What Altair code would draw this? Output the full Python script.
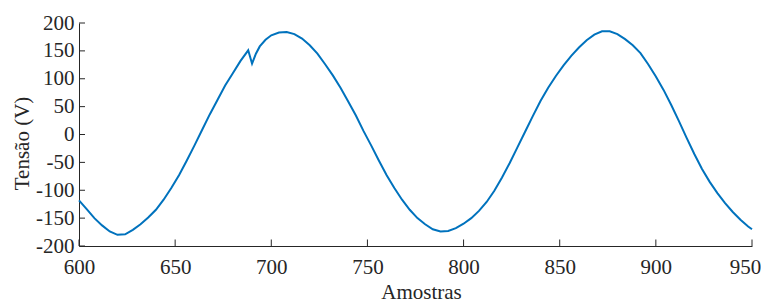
import altair as alt
import pandas as pd

amostras = [600, 604, 608, 612, 616, 620, 624, 628, 632, 636, 640, 644, 648, 652,
            656, 660, 664, 668, 672, 676, 680, 684, 688, 690, 692, 694, 697, 700,
            704, 708, 712, 716, 720, 724, 728, 732, 736, 740, 744, 748, 752, 756,
            760, 764, 768, 772, 776, 780, 784, 788, 792, 796, 800, 804, 808, 812,
            816, 820, 824, 828, 832, 836, 840, 844, 848, 852, 856, 860, 864, 868,
            872, 876, 880, 884, 888, 892, 896, 900, 904, 908, 912, 916, 920, 924,
            928, 932, 936, 940, 944, 948, 950]
tensao = [-118, -134, -150, -163, -174, -180, -179, -171, -161, -149, -135, -117, -96, -73,
          -47, -20, 8, 36, 62, 88, 110, 132, 151, 127, 145, 158, 170, 178,
          183, 184, 180, 172, 160, 145, 126, 106, 84, 59, 34, 6, -20, -47,
          -73, -96, -117, -135, -150, -161, -170, -174, -173, -168, -160, -150, -137, -121,
          -101, -77, -51, -23, 5, 33, 60, 84, 105, 124, 141, 156, 169, 179,
          185, 185, 180, 171, 160, 146, 126, 104, 80, 53, 24, -6, -35, -62,
          -85, -105, -123, -139, -153, -165, -170]

x_ticks = [600, 650, 700, 750, 800, 850, 900, 950]
y_ticks = [-200, -150, -100, -50, 0, 50, 100, 150, 200]

FONT = "Liberation Serif, Times New Roman, serif"
TXT = "#262626"

df = pd.DataFrame({"x": amostras, "y": tensao})
xt = pd.DataFrame({"x": x_ticks})
yt = pd.DataFrame({"y": y_ticks})

xscale = alt.Scale(domain=[600, 950], nice=False, zero=False)
yscale = alt.Scale(domain=[-200, 200], nice=False, zero=False)

label_expr = "datum.value < 0 ? '-' + abs(datum.value) : '' + datum.value"

common = dict(ticks=False, grid=False, labelExpr=label_expr, labelOverlap=False,
              labelFlush=False, labelFont=FONT, titleFont=FONT, labelFontSize=21,
              titleFontSize=21, titleFontWeight="normal", labelColor=TXT,
              titleColor=TXT, domainColor=TXT, domainWidth=1, labelSeparation=0)

xaxis = alt.Axis(values=x_ticks, labelPadding=10, titlePadding=4, titleX=342,
                 labelOffset={"condition": {"test": "datum.value == 950", "value": -7},
                              "value": 0},
                 **common)
yaxis = alt.Axis(values=y_ticks, labelPadding=5, titlePadding=3, titleY=120, **common)

X = lambda: alt.X("x:Q", scale=xscale, title="Amostras", axis=xaxis)
Y = lambda: alt.Y("y:Q", scale=yscale, title="Tensão (V)", axis=yaxis)

line = alt.Chart(df).mark_line(color="#0072BD", strokeWidth=2).encode(x=X(), y=Y())

xtick_marks = alt.Chart(xt).mark_rule(color=TXT, strokeWidth=1).encode(
    x=X(), y=alt.value(223), y2=alt.value(216.5)
)
ytick_marks = alt.Chart(yt).mark_rule(color=TXT, strokeWidth=1).encode(
    y=Y(), x=alt.value(0), x2=alt.value(6)
)

chart = alt.layer(line, xtick_marks, ytick_marks).properties(
    width=673, height=223,
    padding={"left": 71, "top": 15, "right": 9, "bottom": 56},
    autosize=alt.AutoSizeParams(type="none"),
).configure(font=FONT).configure_view(stroke=None)

chart.save("out.html", embed_options={"renderer": "svg", "actions": False})
